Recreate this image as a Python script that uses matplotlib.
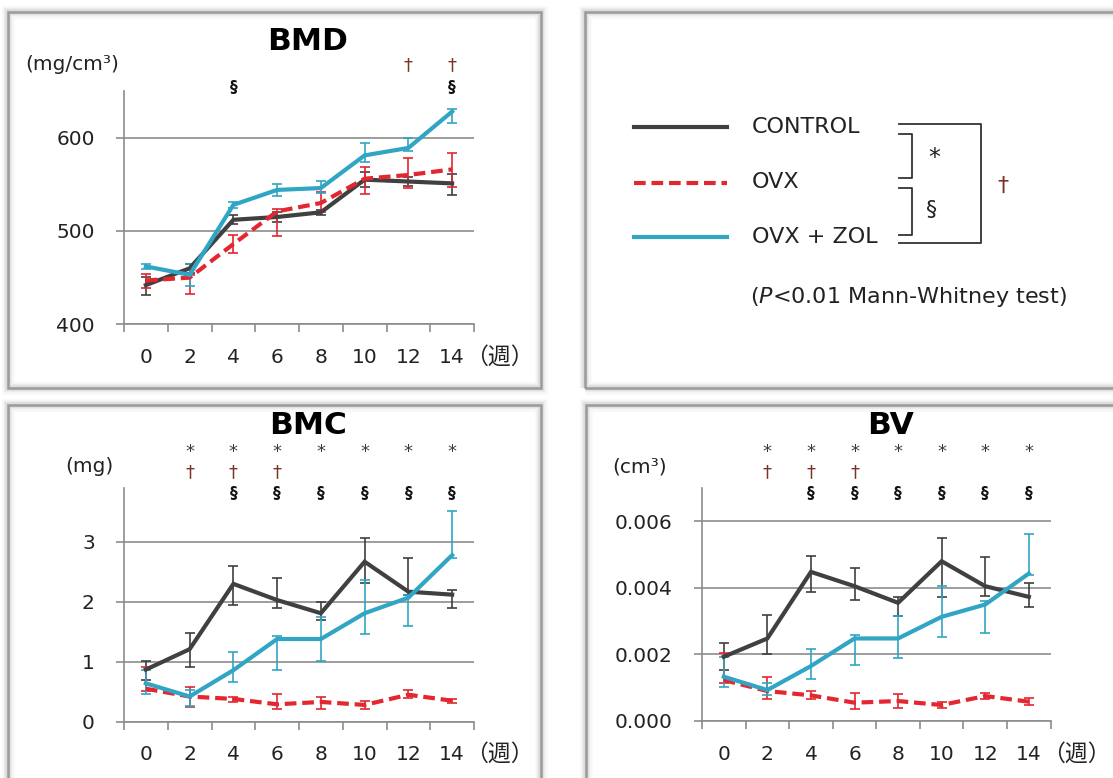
import numpy as np
import matplotlib
matplotlib.use('Agg')
from matplotlib import pyplot as plt
from matplotlib.patches import Rectangle
from matplotlib.lines import Line2D
from matplotlib.transforms import blended_transform_factory

plt.rcParams['font.family'] = ['DejaVu Sans', 'Noto Sans CJK JP']

# --- data ---
weeks = ['0', '2', '4', '6', '8', '10', '12', '14']
groups = ['CONTROL', 'OVX', 'OVX + ZOL']

bmd_ctrl = [442, 460, 512, 515, 520, 555, 553, 551]
bmd_ctrl_lo = [11, 5, 5, 5, 3, 8, 5, 12]
bmd_ctrl_hi = [9, 5, 5, 5, 3, 8, 5, 10]
bmd_ovx = [447, 450, 486, 521, 530, 556, 560, 566]
bmd_ovx_lo = [8, 17, 10, 26, 10, 16, 14, 19]
bmd_ovx_hi = [7, 3, 10, 3, 12, 13, 18, 18]
bmd_zol = [462, 453, 528, 544, 546, 581, 589, 628]
bmd_zol_lo = [3, 12, 3, 6, 5, 7, 3, 12]
bmd_zol_hi = [3, 12, 3, 6, 8, 13, 11, 3]

bmc_ctrl = [0.87, 1.21, 2.30, 2.03, 1.81, 2.67, 2.17, 2.12]
bmc_ctrl_lo = [0.18, 0.30, 0.36, 0.14, 0.12, 0.35, 0.05, 0.23]
bmc_ctrl_hi = [0.15, 0.27, 0.29, 0.37, 0.18, 0.39, 0.57, 0.08]
bmc_ovx = [0.55, 0.42, 0.38, 0.29, 0.33, 0.28, 0.45, 0.35]
bmc_ovx_lo = [0.03, 0.17, 0.05, 0.08, 0.12, 0.06, 0.06, 0.03]
bmc_ovx_hi = [0.36, 0.16, 0.04, 0.17, 0.08, 0.06, 0.08, 0.03]
bmc_zol = [0.64, 0.42, 0.86, 1.38, 1.38, 1.81, 2.07, 2.78]
bmc_zol_lo = [0.18, 0.16, 0.19, 0.51, 0.37, 0.35, 0.47, 0.04]
bmc_zol_hi = [0.22, 0.11, 0.30, 0.05, 0.36, 0.55, 0.05, 0.74]

bv_ctrl = [0.00193, 0.00248, 0.00448, 0.00405, 0.00355, 0.00480, 0.00405, 0.00373]
bv_ctrl_lo = [0.0004, 0.00048, 0.0006, 0.0004, 0.0004, 0.00107, 0.0003, 0.0003]
bv_ctrl_hi = [0.0004, 0.0007, 0.00047, 0.00054, 0.00018, 0.0007, 0.00087, 0.00043]
bv_ovx = [0.00123, 0.00090, 0.00077, 0.00055, 0.00060, 0.00048, 0.00075, 0.00058]
bv_ovx_lo = [0.0001, 0.00025, 0.00012, 0.0002, 0.0002, 0.0001, 0.0001, 0.0001]
bv_ovx_hi = [0.0008, 0.00043, 0.00012, 0.0003, 0.0002, 0.0001, 0.0001, 0.0001]
bv_zol = [0.00133, 0.00093, 0.00165, 0.00248, 0.00248, 0.00313, 0.00350, 0.00443]
bv_zol_lo = [0.0003, 0.00015, 0.0004, 0.0008, 0.0006, 0.0006, 0.00085, 0.00003]
bv_zol_hi = [0.0006, 0.0002, 0.00052, 0.0001, 0.00067, 0.00092, 0.0001, 0.0012]

# significance marks: week indices
bmd_star, bmd_dagger, bmd_sect = [], [6, 7], [2, 7]
bmc_star, bmc_dagger, bmc_sect = [1, 2, 3, 4, 5, 6, 7], [1, 2, 3], [2, 3, 4, 5, 6, 7]
bv_star, bv_dagger, bv_sect = [1, 2, 3, 4, 5, 6, 7], [1, 2, 3], [2, 3, 4, 5, 6, 7]

C_CTRL = '#404040'
C_OVX = '#e3262f'
C_ZOL = '#30a5c4'
C_GRID = '#8c8c8c'
C_DAG = '#7a3226'
C_STAR = '#3a3a48'

W, H = 1113, 778
fig = plt.figure(figsize=(W / 100, H / 100), dpi=100)


def fx(px):
    return px / W


def fy(py):
    return 1 - py / H


# panel boxes with soft shadow
def box(x0, y0, x1, y1):
    for lw, a in [(9, 0.05), (6, 0.08), (4, 0.12)]:
        fig.add_artist(Rectangle((fx(x0), fy(y1)), (x1 - x0) / W, (y1 - y0) / H,
                                 transform=fig.transFigure, fill=False,
                                 edgecolor='#707070', lw=lw, alpha=a, zorder=0))
    fig.add_artist(Rectangle((fx(x0), fy(y1)), (x1 - x0) / W, (y1 - y0) / H,
                             transform=fig.transFigure, fill=False,
                             edgecolor='#9a9a9a', lw=1.8, zorder=0))


box(8, 12, 541, 388)
box(585, 12, 1125, 388)
box(8, 405, 541, 790)
box(586, 405, 1125, 790)


def panel(rect, ctrl, ovx, zol, errs, ylim, yticks, yfmt, title, tx, ty,
          unit, ux, uy, star, dagger, sect, sy):
    ax = fig.add_axes(rect)
    ax.set_facecolor('none')
    x = np.arange(len(weeks))
    series = [(ctrl, C_CTRL, '-'), (ovx, C_OVX, (0, (2.8, 1.4))), (zol, C_ZOL, '-')]
    for (vals, col, ls), (lo, hi) in zip(series, errs):
        ax.errorbar(x, vals, yerr=[lo, hi], fmt='none', ecolor=col,
                    elinewidth=1.2, capsize=3.5, capthick=1.2, zorder=3)
    for vals, col, ls in series:
        ax.plot(x, vals, color=col, lw=3, linestyle=ls, zorder=4,
                solid_joinstyle='miter', dash_capstyle='butt')
    ax.set_xlim(-0.5, 7.5)
    ax.set_ylim(*ylim)
    ax.set_yticks(yticks)
    ax.set_yticklabels([yfmt.format(v) for v in yticks])
    ax.set_xticks(x)
    ax.set_xticklabels(weeks)
    ax.set_xticks(np.arange(-0.5, 8, 1), minor=True)
    ax.tick_params(axis='x', which='major', length=0, pad=17, labelsize=14.5,
                   labelcolor='#222222')
    ax.tick_params(axis='x', which='minor', length=6, width=1.2, color=C_GRID,
                   direction='out')
    ax.tick_params(axis='y', length=6, width=1.2, color=C_GRID, pad=15,
                   labelsize=14.5, labelcolor='#222222')
    ax.yaxis.grid(True, color=C_GRID, lw=1.2)
    ax.set_axisbelow(True)
    for s in ['top', 'right']:
        ax.spines[s].set_visible(False)
    for s in ['left', 'bottom']:
        ax.spines[s].set_color(C_GRID)
        ax.spines[s].set_linewidth(1.2)
    ax.annotate('（週）', xy=(1, 0), xycoords='axes fraction', xytext=(-9, -33),
                textcoords='offset pixels', ha='left', va='center', fontsize=16.5,
                family=['Noto Sans CJK JP'], color='#222222')
    fig.text(fx(tx), fy(ty), title, ha='center', va='center', fontsize=22.5,
             fontweight='bold')
    fig.text(fx(ux), fy(uy), unit, ha='left', va='center', fontsize=14.5,
             color='#222222')
    tr = blended_transform_factory(ax.transData, fig.transFigure)
    for i in star:
        ax.text(i, fy(sy[0]), '*', transform=tr, ha='center', va='center',
                fontsize=13, color=C_STAR, clip_on=False)
    for i in dagger:
        ax.text(i, fy(sy[1]), '†', transform=tr, ha='center', va='center',
                fontsize=13, color=C_DAG, clip_on=False)
    for i in sect:
        ax.text(i, fy(sy[2]), '§', transform=tr, ha='center', va='center',
                fontsize=11, fontweight='bold', color='#111111', clip_on=False)
    return ax


panel([fx(124), fy(324.3), 350 / W, 233.3 / H], bmd_ctrl, bmd_ovx, bmd_zol,
      [(bmd_ctrl_lo, bmd_ctrl_hi), (bmd_ovx_lo, bmd_ovx_hi), (bmd_zol_lo, bmd_zol_hi)],
      (400, 650), [400, 500, 600], '{:.0f}', 'BMD', 308, 42,
      '(mg/cm³)', 25, 65, bmd_star, bmd_dagger, bmd_sect, (50, 65, 88))

panel([fx(124), fy(721.7), 350 / W, 233.7 / H], bmc_ctrl, bmc_ovx, bmc_zol,
      [(bmc_ctrl_lo, bmc_ctrl_hi), (bmc_ovx_lo, bmc_ovx_hi), (bmc_zol_lo, bmc_zol_hi)],
      (0, 3.9), [0, 1, 2, 3], '{:.0f}', 'BMC', 308, 425,
      '(mg)', 65, 467, bmc_star, bmc_dagger, bmc_sect, (452, 472, 494))

panel([fx(702), fy(721), 348.6 / W, 233 / H], bv_ctrl, bv_ovx, bv_zol,
      [(bv_ctrl_lo, bv_ctrl_hi), (bv_ovx_lo, bv_ovx_hi), (bv_zol_lo, bv_zol_hi)],
      (0, 0.007), [0, 0.002, 0.004, 0.006], '{:.3f}', 'BV', 890, 425,
      '(cm³)', 612, 467, bv_star, bv_dagger, bv_sect, (452, 472, 494))

# legend panel
leg_y = [127.4, 182.5, 237.3]
leg_style = [(C_CTRL, '-'), (C_OVX, (0, (2.8, 1.4))), (C_ZOL, '-')]
for name, yy, (col, ls) in zip(groups, leg_y, leg_style):
    fig.add_artist(Line2D([fx(634), fx(727)], [fy(yy), fy(yy)], color=col, lw=3,
                          linestyle=ls, dash_capstyle='butt',
                          transform=fig.transFigure))
    fig.text(fx(752), fy(yy), name, ha='left', va='center', fontsize=16,
             color='#222222')


def bracket(x0, x1, y0, y1):
    fig.add_artist(Line2D([fx(x0), fx(x1), fx(x1), fx(x0)],
                          [fy(y0), fy(y0), fy(y1), fy(y1)], color='#333333',
                          lw=1.3, transform=fig.transFigure))


bracket(899, 981, 124.4, 242.7)
bracket(899, 912, 133.5, 178.4)
bracket(899, 912, 188, 234.6)
fig.text(fx(934), fy(158), '*', ha='center', va='center', fontsize=17, color='#222222')
fig.text(fx(932), fy(210), '§', ha='center', va='center', fontsize=16, color='#222222')
fig.text(fx(1003), fy(186), '†', ha='center', va='center', fontsize=16, color=C_DAG)
fig.text(fx(750), fy(297), r'($\it{P}$<0.01 Mann-Whitney test)', ha='left',
         va='center', fontsize=16, color='#222222')

fig.savefig('out.png', dpi=100)
